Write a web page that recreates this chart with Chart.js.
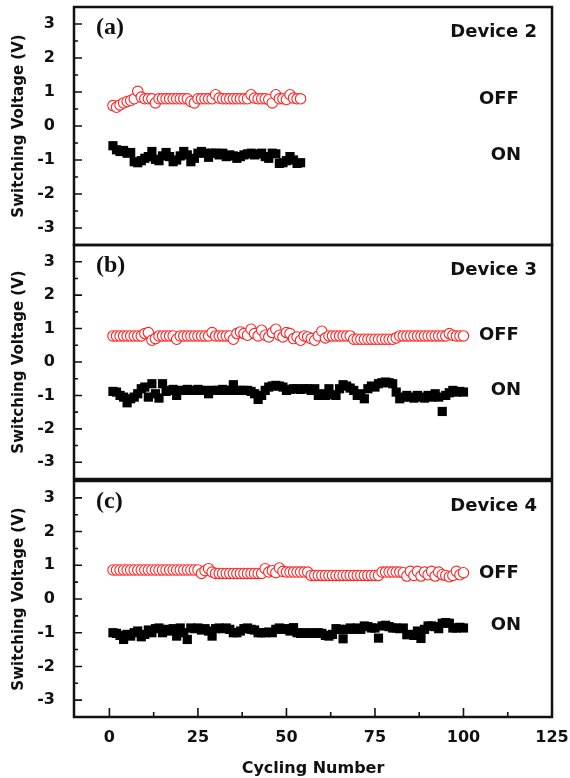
<!DOCTYPE html>
<html>
<head>
<meta charset="utf-8">
<script src="https://cdn.jsdelivr.net/npm/chart.js@4.4.1/dist/chart.umd.min.js"></script>
<style>
  body { margin: 0; background: #fff; }
  #wrap { position: relative; width: 570px; height: 778px; }
  #wrap canvas { position: absolute; left: 0; top: 0; }
</style>
</head>
<body>
<div id="wrap">
  <canvas id="panel-a" width="570" height="778"></canvas>
  <canvas id="panel-b" width="570" height="778"></canvas>
  <canvas id="panel-c" width="570" height="778"></canvas>
</div>
<script>
// ---------------------------------------------------------------------------
// DATA
// ---------------------------------------------------------------------------

const cyclesA = [1,2,3,4,5,6,7,8,9,10,11,12,13,14,15,16,17,18,19,20,21,22,23,24,25,26,27,
  28,29,30,31,32,33,34,35,36,37,38,39,40,41,42,43,44,45,46,47,48,49,50,51,52,53,54];

const cycles = [1,2,3,4,5,6,7,8,9,10,11,12,13,14,15,16,17,18,19,20,21,22,23,24,25,26,27,28,29,30,
  31,32,33,34,35,36,37,38,39,40,41,42,43,44,45,46,47,48,49,50,51,52,53,54,55,56,57,58,59,60,
  61,62,63,64,65,66,67,68,69,70,71,72,73,74,75,76,77,78,79,80,81,82,83,84,85,86,87,88,89,90,
  91,92,93,94,95,96,97,98,99,100];

// Device 2
const offA = [0.60,0.55,0.62,0.68,0.72,0.75,0.80,1.02,0.85,0.80,0.80,0.80,0.68,0.80,0.80,0.80,0.80,0.80,
  0.80,0.80,0.80,0.80,0.72,0.68,0.80,0.80,0.80,0.80,0.80,0.92,0.82,0.80,0.80,0.80,0.80,0.80,
  0.80,0.80,0.80,0.92,0.82,0.80,0.80,0.80,0.78,0.68,0.92,0.80,0.80,0.78,0.92,0.82,0.80,0.80];
const onA = [-0.58,-0.70,-0.75,-0.72,-0.80,-0.78,-1.05,-1.08,-1.02,-0.95,-0.90,-0.75,-0.98,-1.02,-0.88,-0.78,-0.90,-1.05,
  -1.00,-0.88,-0.75,-0.85,-1.05,-0.95,-0.80,-0.75,-0.80,-0.92,-0.80,-0.80,-0.85,-0.80,-0.90,-0.85,-0.88,-0.95,
  -0.90,-0.85,-0.82,-0.80,-0.85,-0.82,-0.80,-0.90,-0.95,-0.80,-0.82,-1.10,-1.08,-1.02,-0.90,-1.00,-1.10,-1.08];

// Device 3
const offB = [0.78,0.78,0.78,0.78,0.78,0.78,0.78,0.78,0.78,0.85,0.88,0.65,0.70,0.78,0.78,0.78,0.78,0.78,0.68,0.78,
  0.78,0.78,0.78,0.78,0.78,0.78,0.78,0.78,0.88,0.78,0.78,0.78,0.78,0.78,0.68,0.85,0.90,0.85,0.80,0.98,
  0.85,0.78,0.95,0.80,0.75,0.88,0.98,0.80,0.75,0.88,0.85,0.70,0.75,0.65,0.78,0.75,0.70,0.65,0.78,0.92,
  0.72,0.78,0.78,0.78,0.78,0.78,0.78,0.78,0.68,0.68,0.68,0.68,0.68,0.68,0.68,0.68,0.68,0.68,0.68,0.68,
  0.72,0.78,0.78,0.78,0.78,0.78,0.78,0.78,0.78,0.78,0.78,0.78,0.78,0.78,0.78,0.85,0.80,0.78,0.78,0.78];
const onB = [-0.88,-0.90,-1.00,-1.05,-1.22,-1.10,-1.05,-0.95,-0.80,-0.75,-1.05,-0.65,-0.95,-1.08,-0.65,-0.88,-0.85,-0.82,-1.00,-0.85,
  -0.85,-0.82,-0.85,-0.85,-0.82,-0.85,-0.85,-0.95,-0.85,-0.85,-0.85,-0.82,-0.85,-0.85,-0.68,-0.85,-0.85,-0.85,-0.85,-0.88,
  -0.95,-1.12,-1.00,-0.85,-0.75,-0.72,-0.70,-0.72,-0.75,-0.85,-0.82,-0.80,-0.80,-0.82,-0.80,-0.80,-0.85,-0.80,-1.00,-0.95,
  -1.00,-0.80,-0.98,-1.00,-0.80,-0.68,-0.72,-0.78,-0.85,-1.00,-0.95,-1.10,-0.80,-0.72,-0.75,-0.65,-0.62,-0.60,-0.62,-0.65,
  -0.90,-1.10,-1.05,-1.00,-1.05,-1.08,-1.00,-1.05,-1.08,-1.00,-1.05,-0.95,-1.05,-1.48,-1.00,-0.92,-0.85,-0.90,-0.88,-0.90];

// Device 4
const offC = [0.86,0.86,0.86,0.86,0.86,0.86,0.86,0.86,0.86,0.86,0.86,0.86,0.86,0.86,0.86,0.86,0.86,0.86,0.86,0.86,
  0.86,0.86,0.86,0.86,0.86,0.76,0.84,0.90,0.80,0.76,0.76,0.76,0.76,0.76,0.76,0.76,0.76,0.76,0.76,0.76,
  0.76,0.76,0.76,0.90,0.80,0.84,0.78,0.92,0.82,0.80,0.80,0.80,0.80,0.80,0.80,0.80,0.70,0.70,0.70,0.70,
  0.70,0.70,0.70,0.70,0.70,0.70,0.70,0.70,0.70,0.70,0.70,0.70,0.70,0.70,0.70,0.70,0.80,0.80,0.80,0.80,
  0.80,0.80,0.78,0.68,0.82,0.70,0.82,0.68,0.80,0.72,0.82,0.68,0.80,0.72,0.70,0.66,0.70,0.82,0.72,0.78];
const onC = [-1.00,-1.02,-1.08,-1.20,-1.05,-1.10,-1.00,-0.95,-1.12,-1.05,-0.92,-1.00,-0.88,-0.86,-1.00,-0.90,-0.95,-0.88,-1.10,-0.86,
  -1.00,-1.20,-0.86,-0.88,-0.86,-0.92,-0.88,-0.95,-1.10,-0.88,-0.86,-0.88,-0.86,-0.90,-1.00,-1.00,-0.95,-0.88,-0.86,-0.90,
  -0.92,-1.00,-1.00,-1.00,-0.98,-1.00,-0.90,-0.86,-0.90,-0.88,-0.95,-0.85,-1.00,-1.02,-1.00,-1.02,-1.00,-1.02,-1.00,-1.02,
  -1.08,-1.10,-1.05,-0.88,-0.90,-1.18,-0.90,-0.86,-0.90,-0.86,-0.90,-0.80,-0.82,-0.86,-0.86,-1.16,-0.80,-0.78,-0.82,-0.86,
  -0.86,-0.88,-0.86,-1.06,-1.05,-1.08,-0.95,-1.17,-0.90,-0.80,-0.80,-0.82,-0.88,-0.72,-0.70,-0.72,-0.86,-0.86,-0.84,-0.86];

const xTicks = [0, 25, 50, 75, 100, 125];
const yTicks = [-3, -2, -1, 0, 1, 2, 3];
const panelTags = ['(a)', '(b)', '(c)'];
const deviceNames = ['Device 2', 'Device 3', 'Device 4'];
const stateLabels = ['OFF', 'ON'];

// ---------------------------------------------------------------------------
// STYLE
// ---------------------------------------------------------------------------

const INK = '#111';
const RED = 'rgb(255, 36, 36)';
const SANS = '"DejaVu Sans", "Liberation Sans", Arial, sans-serif';
const SERIF = '"Liberation Serif", "Times New Roman", serif';
const W = 570, H = 778;
const PLOT_RIGHT = 552;
const PLOT_BOTTOM = 717;

// ---------------------------------------------------------------------------
// FRAME / TICKS / ANNOTATIONS PLUGIN
// ---------------------------------------------------------------------------

const framePlugin = {
  id: 'frame',
  afterDraw(chart, args, opts) {
    const { ctx, chartArea: a } = chart;
    const x = chart.scales.x, y = chart.scales.y;
    ctx.save();

    // box
    ctx.strokeStyle = INK;
    ctx.lineWidth = 2.5;
    ctx.strokeRect(a.left, a.top, a.right - a.left, a.bottom - a.top);

    // inward ticks (major + minor)
    ctx.lineWidth = 1.6;
    ctx.beginPath();
    yTicks.forEach((v) => {
      const py = y.getPixelForValue(v);
      ctx.moveTo(a.left, py); ctx.lineTo(a.left + 8, py);
      if (v < 3) {
        const pm = y.getPixelForValue(v + 0.5);
        ctx.moveTo(a.left, pm); ctx.lineTo(a.left + 4, pm);
      }
    });
    if (opts.showX) {
      xTicks.forEach((v) => {
        const px = x.getPixelForValue(v);
        ctx.moveTo(px, a.bottom); ctx.lineTo(px, a.bottom - 9);
        if (v < 125) {
          const pm = x.getPixelForValue(v + 12.5);
          ctx.moveTo(pm, a.bottom); ctx.lineTo(pm, a.bottom - 5);
        }
      });
    }
    ctx.stroke();

    // panel tag
    ctx.fillStyle = INK;
    ctx.textBaseline = 'middle';
    ctx.textAlign = 'left';
    ctx.font = 'bold 24px ' + SERIF;
    ctx.fillText(opts.tag, a.left + 22, a.top + 21);

    // device name
    ctx.textAlign = 'right';
    ctx.font = 'bold 18px ' + SANS;
    ctx.fillText(opts.device, a.right - 15, a.top + 25);

    // OFF / ON labels
    ctx.textAlign = 'center';
    ctx.fillText(stateLabels[0], x.getPixelForValue(110), y.getPixelForValue(opts.offAt));
    ctx.fillText(stateLabels[1], x.getPixelForValue(112), y.getPixelForValue(opts.onAt));

    ctx.restore();
  }
};

// ---------------------------------------------------------------------------
// PANEL FACTORY
// ---------------------------------------------------------------------------

function makePoints(xs, ys) {
  return ys.map((v, i) => ({ x: xs[i], y: v }));
}

function makePanel(canvasId, cfg) {
  const ctx = document.getElementById(canvasId).getContext('2d');
  return new Chart(ctx, {
    type: 'line',
    data: {
      datasets: [
        {
          label: 'OFF',
          data: makePoints(cfg.xs, cfg.off),
          showLine: false,
          pointStyle: 'circle',
          pointRadius: 5.2,
          pointHoverRadius: 5.2,
          pointBorderWidth: 1.1,
          pointBorderColor: RED,
          pointBackgroundColor: '#fff',
          order: 1
        },
        {
          label: 'ON',
          data: makePoints(cfg.xs, cfg.on),
          showLine: false,
          pointStyle: 'rect',
          pointRadius: 6.5,
          pointHoverRadius: 6.5,
          pointBorderWidth: 0,
          pointBackgroundColor: '#000',
          order: 2
        }
      ]
    },
    options: {
      responsive: false,
      animation: false,
      events: [],
      layout: { padding: { top: cfg.top, bottom: cfg.bottom, left: 0, right: W - PLOT_RIGHT } },
      plugins: {
        legend: { display: false },
        tooltip: { enabled: false },
        frame: { tag: cfg.tag, device: cfg.device, offAt: cfg.offAt, onAt: cfg.onAt, showX: cfg.showX }
      },
      scales: {
        x: {
          type: 'linear',
          min: -10,
          max: 125,
          display: cfg.showX,
          afterBuildTicks: (s) => { s.ticks = xTicks.map((v) => ({ value: v })); },
          afterFit: (s) => {
            s.height = cfg.showX ? H - PLOT_BOTTOM : 0;
            s.paddingLeft = 0; s.paddingRight = 0;
          },
          grid: { display: false },
          border: { display: false },
          ticks: { color: INK, padding: 3, font: { family: SANS, size: 16, weight: 'bold' } },
          title: {
            display: true,
            text: 'Cycling Number',
            color: INK,
            padding: { top: 0, bottom: 0 },
            font: { family: SANS, size: 16, weight: 'bold' }
          }
        },
        y: {
          type: 'linear',
          min: -3.5,
          max: 3.5,
          afterBuildTicks: (s) => { s.ticks = yTicks.map((v) => ({ value: v })); },
          afterFit: (s) => {
            s.width = 74;
            s.paddingTop = 0; s.paddingBottom = 0;
          },
          grid: { display: false },
          border: { display: false },
          ticks: { color: INK, padding: 11, font: { family: SANS, size: 16, weight: 'bold' } },
          title: {
            display: true,
            text: 'Switching Voltage (V)',
            color: INK,
            padding: { top: 10, bottom: 0 },
            font: { family: SANS, size: 15, weight: 'bold' }
          }
        }
      }
    },
    plugins: [framePlugin]
  });
}

makePanel('panel-a', {
  xs: cyclesA, off: offA, on: onA, tag: panelTags[0], device: deviceNames[0],
  top: 7, bottom: H - 245, showX: false, offAt: 0.78, onAt: -0.87
});
makePanel('panel-b', {
  xs: cycles, off: offB, on: onB, tag: panelTags[1], device: deviceNames[1],
  top: 245, bottom: H - 479, showX: false, offAt: 0.79, onAt: -0.84
});
makePanel('panel-c', {
  xs: cycles, off: offC, on: onC, tag: panelTags[2], device: deviceNames[2],
  top: 481, bottom: 0, showX: true, offAt: 0.77, onAt: -0.78
});
</script>
</body>
</html>
